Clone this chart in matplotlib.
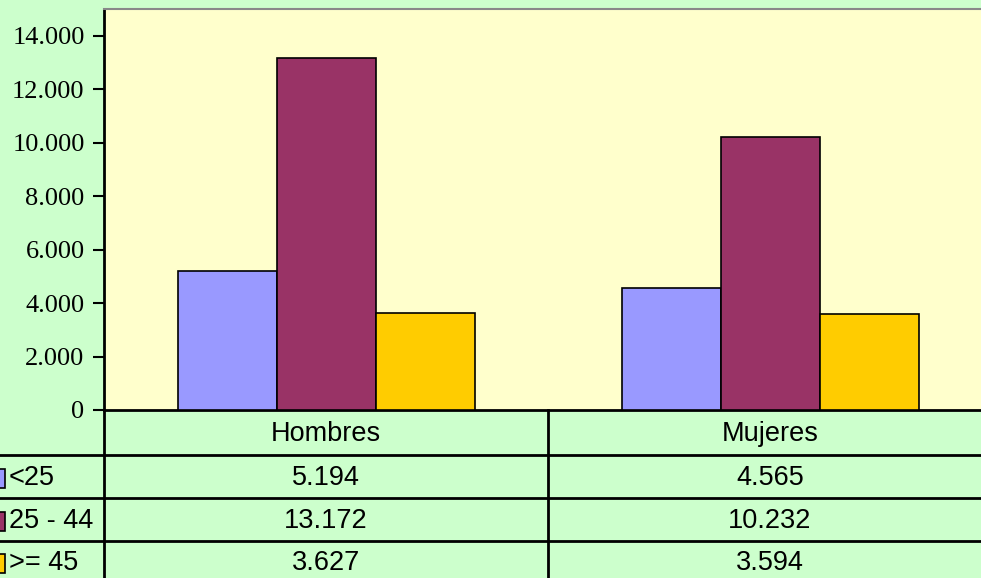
import matplotlib
matplotlib.use("Agg")
import matplotlib.pyplot as plt
from matplotlib.patches import Rectangle
import numpy as np

categories = ["Hombres", "Mujeres"]
series_names = ["<25", "25 - 44", ">= 45"]
v_lt25 = [5194, 4565]
v_25_44 = [13172, 10232]
v_ge45 = [3627, 3594]
series_values = [v_lt25, v_25_44, v_ge45]
colors = ["#9999FF", "#993366", "#FFCC00"]
yticks = [0, 2000, 4000, 6000, 8000, 10000, 12000, 14000]

def fmt(v):
    return f"{v:,}".replace(",", ".")

W, H = 981, 578
fig = plt.figure(figsize=(W / 100, H / 100), dpi=100)
fig.patch.set_facecolor("#CCFFCC")

# main plot area (pixels: left 104, top 9, bottom 410)
left, top, bottom = 104, 9, 410
ax = fig.add_axes([left / W, (H - bottom) / H, (W - left) / W, (bottom - top) / H])
ax.set_facecolor("#FFFFCC")
cat_px = 444.0
x0_px = 326.0
ax.set_xlim((left - x0_px) / cat_px, (W - x0_px) / cat_px)
ax.set_ylim(0, 14000 * (bottom - top) / 374.0)

x = np.arange(len(categories))
bw = 99.0 / cat_px
for i, (vals, c) in enumerate(zip(series_values, colors)):
    ax.bar(x + (i - 1) * bw, vals, bw, color=c, edgecolor="black", linewidth=1.2, zorder=3)

ax.set_yticks(yticks)
ax.set_yticklabels([fmt(t) for t in yticks], fontfamily="Liberation Serif", fontsize=19)
ax.tick_params(axis="y", direction="out", length=8, width=1.5, pad=6, colors="black")
ax.set_xticks([])
ax.spines["right"].set_visible(False)
ax.spines["top"].set_color("#888888")
ax.spines["top"].set_linewidth(1.5)
ax.spines["left"].set_linewidth(2)
ax.spines["bottom"].set_linewidth(2)

# overlay for data table in pixel coordinates
ov = fig.add_axes([0, 0, 1, 1], facecolor="none")
ov.set_xlim(0, W)
ov.set_ylim(H, 0)
ov.axis("off")

lw = 2
ov.plot([left, left], [bottom, H], color="black", lw=lw)
ov.plot([548, 548], [bottom, H], color="black", lw=lw)
for yy in [455, 498, 541]:
    ov.plot([0, W], [yy, yy], color="black", lw=lw)

fs = 19.5
col_centers = [326, 770]
row_y = [478, 521, 563]
for cx, name in zip(col_centers, categories):
    ov.text(cx, 434, name, ha="center", va="center", fontfamily="Liberation Sans", fontsize=fs)
for r, (name, vals, c) in enumerate(zip(series_names, series_values, colors)):
    ov.add_patch(Rectangle((-5, row_y[r] - 9), 9.5, 19, facecolor=c, edgecolor="black", lw=1.2))
    ov.text(9, row_y[r], name, ha="left", va="center", fontfamily="Liberation Sans", fontsize=fs)
    for cx, v in zip(col_centers, vals):
        ov.text(cx, row_y[r], fmt(v), ha="center", va="center", fontfamily="Liberation Sans", fontsize=fs)

fig.savefig("out.png", dpi=100, facecolor=fig.get_facecolor())
